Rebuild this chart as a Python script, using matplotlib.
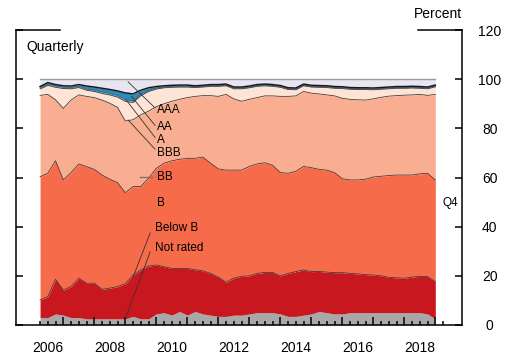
import numpy as np
import pandas as pd
import matplotlib
matplotlib.use("Agg")
import matplotlib.pyplot as plt

plt.rcParams['font.family'] = ['Liberation Sans', 'DejaVu Sans']

quarters = pd.period_range('2006Q1', '2018Q4', freq='Q')

# cumulative share (top edge of each rating band), percent
not_rated = [3, 3, 4.5, 4, 3, 3, 2.5, 2.5, 2.5, 2.5, 2.5, 2.5, 3.5, 2.5, 2.5, 4.5,
             5, 4, 5.5, 4, 5.5, 4.5, 4, 3.5, 3.5, 4, 4, 4.5, 5, 5, 5, 4.5,
             3.5, 3.5, 4, 4.5, 5.5, 5, 4.5, 4.5, 5, 5, 5, 5, 5, 5, 5, 5,
             5, 5, 4.5, 2.5]
below_b = [10.2, 11.5, 18.6, 14.2, 15.6, 19, 17, 17, 14.5, 15, 15.6, 16.8, 20.3, 22.4, 24, 24.4,
           23.7, 23, 23, 23, 22.5, 22, 21, 19.5, 17.4, 19.1, 19.8, 20, 21, 21.4, 21.4, 20,
           21, 21.7, 22.4, 21.7, 21.8, 21.5, 21.3, 21.3, 21, 20.8, 20.5, 20.3, 20, 19.4, 19.2, 19,
           19.5, 19.8, 19.7, 17.6]
b_top = [60.3, 61.7, 66.8, 59, 62, 65.5, 64.4, 63.3, 61, 59.3, 57.9, 53.8, 56.3, 56.3, 59.7, 63.7,
         65.8, 66.8, 67.4, 67.8, 67.8, 68.3, 65.8, 63.5, 63, 63, 63, 64.5, 65.5, 66, 65, 62,
         61.7, 62.5, 64.5, 64, 63.3, 63, 62, 59.5, 59, 59, 59.3, 60.2, 60.5, 60.8, 61, 61,
         61, 61.5, 61.7, 59]
bb_top = [93.4, 93.8, 91.6, 88.1, 91.5, 93.6, 93, 92.5, 91.5, 90.2, 88.5, 83, 83.5, 85.5, 87, 88.8,
          90, 91, 91.8, 92.5, 93, 93.3, 93.3, 93, 93.8, 92, 91, 91.8, 92.5, 93.2, 93.2, 93,
          93, 93.2, 95, 94.3, 94, 93.6, 93.2, 92.2, 91.8, 91.6, 91.5, 92, 92.6, 93.1, 93.3, 93.5,
          93.6, 93.8, 93.4, 93.8]
bbb_top = [96.0, 97.5, 96.7, 96.2, 96.1, 96.6, 95.5, 95.0, 94.2, 93.6, 92.7, 91.0, 90.5, 93.3, 95.0, 96.0,
           96.5, 96.7, 96.8, 96.8, 96.6, 96.8, 97.1, 97.1, 97.3, 96.1, 96.1, 96.5, 97.1, 97.3, 97.1, 96.7,
           95.8, 95.7, 97.3, 96.8, 96.7, 96.6, 96.3, 96.2, 95.9, 95.8, 95.8, 95.7, 95.9, 96.1, 96.3, 96.3,
           96.4, 96.3, 96.1, 96.9]
a_top = [96.5, 98.0, 97.2, 96.7, 96.6, 97.1, 96.0, 95.5, 94.8, 94.2, 93.3, 91.7, 91.1, 94.0, 95.5, 96.4,
         96.8, 97.0, 97.1, 97.1, 96.9, 97.1, 97.4, 97.4, 97.6, 96.4, 96.4, 96.8, 97.4, 97.6, 97.4, 97.0,
         96.1, 96.0, 97.6, 97.1, 97.0, 96.9, 96.6, 96.5, 96.2, 96.1, 96.1, 96.0, 96.2, 96.4, 96.6, 96.6,
         96.7, 96.6, 96.4, 97.2]
aa_top = [97, 98.6, 97.8, 97.3, 97.2, 97.8, 97.2, 96.8, 96.3, 95.8, 95.2, 94.4, 94.0, 95.5, 96.5, 97,
          97.3, 97.5, 97.6, 97.6, 97.3, 97.5, 97.8, 97.8, 98, 96.8, 96.8, 97.2, 97.8, 98, 97.8, 97.4,
          96.5, 96.4, 98, 97.5, 97.4, 97.3, 97, 96.9, 96.6, 96.5, 96.5, 96.4, 96.6, 96.8, 97, 97,
          97.1, 97, 96.8, 97.6]
aaa_top = [100] * 52

ratings = ['Not rated', 'Below B', 'B', 'BB', 'BBB', 'A', 'AA', 'AAA']
tops = [not_rated, below_b, b_top, bb_top, bbb_top, a_top, aa_top, aaa_top]
colors = ['#a8a8a8', '#c8171f', '#f66c4b', '#faae91', '#fde4d7', '#9fbdd3', '#2b8bbf', '#e8e5f1']

year_labels = ['2006', '2008', '2010', '2012', '2014', '2016', '2018']

x = np.array([q.year + q.quarter / 4 for q in quarters])

fig = plt.figure(figsize=(5.05, 3.54), dpi=100)
ax = fig.add_axes([16 / 505, 29 / 354, 446 / 505, 295 / 354])

lower = np.zeros(len(x))
for name, top, c in zip(ratings, tops, colors):
    top = np.array(top, dtype=float)
    ax.fill_between(x, lower, top, color=c, lw=0)
    lower = top
for top in tops[1:5]:
    ax.plot(x, top, color='#4a3a35', lw=0.6)
ax.plot(x, a_top, color='#3d5f78', lw=0.5)
ax.plot(x, aa_top, color='#1a1a1a', lw=1.1)
ax.plot(x, aaa_top, color='#9a9a9a', lw=1.0)

ax.set_xlim(2005.474, 2019.861)
ax.set_ylim(0, 120)

# ticks
ax.set_xticks(np.arange(2007, 2020))
ax.set_xticks(np.arange(2006.25, 2019.3, 0.25), minor=True)
ax.tick_params(axis='x', which='major', direction='in', length=6, width=1.2,
               labelbottom=False, color='#111111')
ax.tick_params(axis='x', which='minor', direction='in', length=3, width=1.2, color='#111111')
ax.set_yticks(np.arange(0, 121, 20))
ax.tick_params(axis='y', direction='in', length=5, width=1.1, left=True, right=True,
               labelleft=False, labelright=True, labelsize=10, pad=20)
for lab in ax.get_yticklabels():
    lab.set_horizontalalignment('center')

for lab in year_labels:
    ax.text(int(lab) + 0.5, -0.055, lab, transform=ax.get_xaxis_transform(),
            ha='center', va='top', fontsize=10)

for s in ['left', 'right', 'bottom']:
    ax.spines[s].set_linewidth(1.1)
ax.spines['top'].set_visible(False)
ax.plot([0, 0.0987], [1, 1], transform=ax.transAxes, color='black', lw=1.1, clip_on=False)
ax.plot([0.901, 1], [1, 1], transform=ax.transAxes, color='black', lw=1.1, clip_on=False)

ax.text(0.0224, 0.942, 'Quarterly', transform=ax.transAxes, ha='left', va='center', fontsize=10)
fig.text(462 / 505, 1 - 14 / 354, 'Percent', ha='right', va='center', fontsize=10)
ax.text(2019.24, 49.6, 'Q4', ha='left', va='center', fontsize=8.5)

# band labels with leader lines
lk = dict(fontsize=8.5, ha='left', va='center')
line_kw = dict(color='#333333', lw=0.6)
ax.text(2010.03, 87.5, 'AAA', **lk)
ax.plot([2009.09, 2009.96], [98.9, 88.3], **line_kw)
ax.text(2010.03, 80.6, 'AA', **lk)
ax.plot([2009.2, 2009.96], [93.0, 81.2], **line_kw)
ax.text(2010.03, 75.3, 'A', **lk)
ax.plot([2009.03, 2009.96], [91.5, 76.3], **line_kw)
ax.text(2010.03, 70.0, 'BBB', **lk)
ax.plot([2009.09, 2009.96], [83.4, 71.5], **line_kw)
ax.text(2010.03, 60.2, 'BB', **lk)
ax.plot([2009.47, 2009.86], [60.2, 60.2], color='#8c6d62', lw=1.0)
ax.text(2010.03, 49.6, 'B', **lk)
ax.text(2009.95, 39.5, 'Below B', **lk)
ax.plot([2009.8, 2009.25], [37.4, 19.5], **line_kw)
ax.text(2009.95, 31.3, 'Not rated', **lk)
ax.plot([2009.8, 2009.03], [29.7, 3.5], **line_kw)

fig.savefig('out.png', dpi=100)
